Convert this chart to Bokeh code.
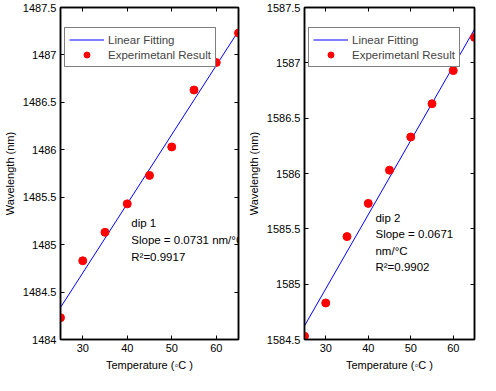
import numpy as np
from bokeh.plotting import figure
from bokeh.models import (LinearAxis, FixedTicker, Range1d, Label, Legend, LegendItem,
                          CustomLabelingPolicy)
from bokeh.layouts import row
from bokeh.embed import file_html
from bokeh.resources import INLINE

# ---- data ----
temperature = [25, 30, 35, 40, 45, 50, 55, 60, 65]
dip1_wavelength = [1484.23, 1484.83, 1485.13, 1485.43, 1485.73, 1486.03, 1486.63, 1486.92, 1487.23]
dip2_wavelength = [1584.53, 1584.83, 1585.43, 1585.73, 1586.03, 1586.33, 1586.63, 1586.93, 1587.23]

x_ticks = [30, 40, 50, 60]
dip1_ticks = [1484, 1484.5, 1485, 1485.5, 1486, 1486.5, 1487, 1487.5]
dip1_tick_labels = ["1484", "1484.5", "1485", "1485.5", "1486", "1486.5", "1487", "1487.5"]
dip2_ticks = [1584.5, 1585, 1585.5, 1586, 1586.5, 1587, 1587.5]
dip2_tick_labels = ["1584.5", "1585", "1585.5", "1586", "1586.5", "1587", "1587.5"]

dip1_text = ["dip 1", "Slope = 0.0731 nm/°C", "R²=0.9917"]
dip2_text = ["dip 2", "Slope = 0.0671", "nm/°C", "R²=0.9902"]

FONT = "Liberation Sans"
FS = "11px"

HIDE_LABELS = """
const n = indices.size;
for (let i = 0; i < n; i++) { indices.unset(i) }
return indices
"""


def make_panel(y, yticks, ylabels, yrange, texts, text_x, text_y0, text_dy,
               width, border_left, border_right):
    p = figure(width=width, height=375, output_backend="svg", toolbar_location=None,
               x_range=Range1d(25, 65), y_range=Range1d(*yrange),
               min_border_left=border_left, min_border_right=border_right,
               min_border_top=7, min_border_bottom=36,
               x_axis_label="Temperature (◦C )", y_axis_label="Wavelength (nm)")
    p.grid.visible = False
    p.outline_line_color = "black"
    p.outline_line_width = 1.5
    p.background_fill_color = "white"
    p.border_fill_color = "white"

    overrides = {t: l for t, l in zip(yticks, ylabels)}
    for ax in p.xaxis:
        ax.ticker = FixedTicker(ticks=x_ticks)
    for ax in p.yaxis:
        ax.ticker = FixedTicker(ticks=yticks)
        ax.major_label_overrides = overrides
    for ax in list(p.xaxis) + list(p.yaxis):
        ax.major_tick_in = 4
        ax.major_tick_out = 0
        ax.minor_tick_line_color = None
        ax.axis_line_color = "black"
        ax.axis_line_width = 1.5
        ax.major_tick_line_color = "black"
        ax.major_label_text_font = FONT
        ax.major_label_text_font_size = FS
        ax.major_label_text_color = "black"
        ax.axis_label_text_font = FONT
        ax.axis_label_text_font_size = FS
        ax.axis_label_text_font_style = "normal"
        ax.axis_label_text_color = "black"
        ax.major_label_standoff = 4
        ax.axis_label_standoff = 4

    top = LinearAxis(ticker=FixedTicker(ticks=x_ticks), major_tick_in=4, major_tick_out=0,
                     minor_tick_line_color=None, major_label_text_font_size="1px",
                     major_label_standoff=0, axis_line_width=1.5,
                     major_label_policy=CustomLabelingPolicy(code=HIDE_LABELS))
    right = LinearAxis(ticker=FixedTicker(ticks=yticks), major_tick_in=4, major_tick_out=0,
                       minor_tick_line_color=None, major_label_text_font_size="1px",
                       major_label_standoff=0, axis_line_width=1.5,
                       major_label_policy=CustomLabelingPolicy(code=HIDE_LABELS))
    p.add_layout(top, "above")
    p.add_layout(right, "right")

    slope, intercept = np.polyfit(temperature, y, 1)
    fit_x = [temperature[0], temperature[-1]]
    fit_y = [slope * v + intercept for v in fit_x]
    line = p.line(fit_x, fit_y, line_color="#0000ff", line_width=1)
    pts = p.scatter(temperature, y, size=8, fill_color="#ff0000", line_color="#ff0000")

    legend = Legend(items=[LegendItem(label="Linear Fitting", renderers=[line]),
                           LegendItem(label="Experimetanl Result", renderers=[pts])],
                    location=(4, 272))
    legend.border_line_color = "black"
    legend.border_line_width = 1.5
    legend.background_fill_alpha = 1
    legend.label_text_font = FONT
    legend.label_text_font_size = "11.5px"
    legend.padding = 4
    legend.spacing = 0
    legend.margin = 0
    legend.label_height = 15
    legend.glyph_height = 15
    legend.glyph_width = 35
    legend.label_standoff = 4
    p.add_layout(legend)

    for i, t in enumerate(texts):
        p.add_layout(Label(x=text_x, y=text_y0 - i * text_dy, text=t,
                           text_font=FONT, text_font_size="11.5px",
                           text_baseline="middle", text_color="black"))
    return p


p1 = make_panel(dip1_wavelength, dip1_ticks, dip1_tick_labels, (1484, 1487.5),
                dip1_text, 40.9, 1485.225, 0.175, 244, 58, 6)
p2 = make_panel(dip2_wavelength, dip2_ticks, dip2_tick_labels, (1584.5, 1587.5),
                dip2_text, 41.7, 1585.594, 0.145, 236, 53, 3)

layout = row(p1, p2)
open("out.html", "w").write(file_html(layout, INLINE))
